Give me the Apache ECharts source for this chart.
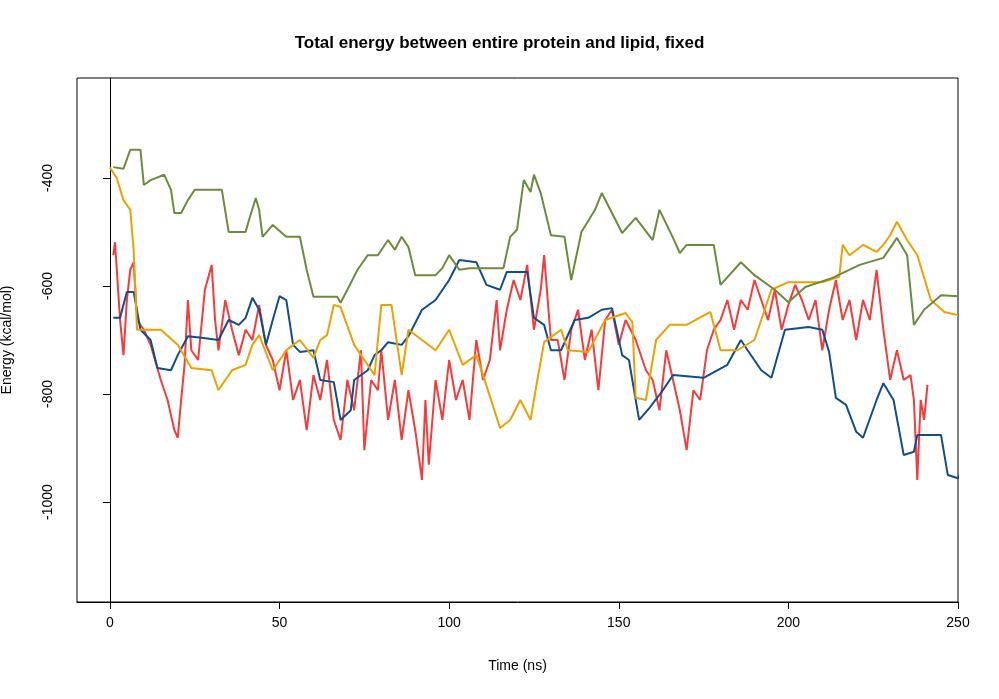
<!DOCTYPE html>
<html>
<head>
<meta charset="utf-8">
<script src="https://cdn.jsdelivr.net/npm/echarts@6/dist/echarts.min.js"></script>
<style>html,body{margin:0;padding:0;background:#fff}#chart{width:999px;height:699px}</style>
</head>
<body>
<div id="chart"></div>
<script>
// [time (ns), energy (kcal/mol)] pairs
const greenSeries = [[1,-380],[4,-383],[6,-348],[9,-348],[10,-413],[12,-404],[16,-394],[18,-422],[19,-465],[21,-465],[23,-441],[25,-422],[33,-422],[35,-500],[40,-500],[41,-478],[43,-437],[44,-459],[45,-509],[48,-487],[52,-509],[56,-509],[58,-570],[60,-620],[67,-620],[68,-631],[70,-607],[73,-570],[76,-543],[79,-543],[82,-515],[84,-533],[86,-509],[88,-528],[90,-580],[96,-580],[98,-567],[100,-543],[103,-570],[106,-567],[116,-567],[118,-509],[120,-496],[122,-404],[124,-426],[125,-394],[127,-428],[130,-506],[134,-509],[136,-589],[139,-500],[143,-459],[145,-428],[151,-502],[155,-474],[160,-515],[162,-459],[166,-511],[168,-539],[170,-524],[178,-524],[180,-598],[186,-556],[190,-580],[196,-607],[200,-630],[205,-602],[213,-585],[221,-561],[228,-548],[232,-511],[235,-543],[237,-672],[240,-644],[245,-617],[250,-619]];
const orangeSeries = [[0,-381],[2,-400],[4,-441],[6,-459],[7,-533],[8,-681],[15,-681],[20,-709],[24,-752],[30,-756],[32,-793],[36,-756],[40,-746],[42,-709],[44,-691],[48,-756],[52,-719],[54,-709],[56,-700],[60,-733],[62,-700],[64,-691],[66,-635],[68,-639],[72,-709],[78,-765],[79,-700],[80,-635],[83,-635],[86,-765],[88,-681],[96,-719],[100,-681],[104,-746],[108,-728],[110,-765],[115,-863],[118,-848],[121,-811],[124,-848],[126,-774],[128,-704],[133,-681],[135,-719],[141,-722],[146,-663],[152,-650],[154,-667],[155,-807],[158,-811],[161,-700],[165,-672],[170,-672],[177,-648],[180,-719],[185,-719],[190,-700],[195,-607],[200,-593],[210,-593],[215,-583],[216,-524],[218,-543],[222,-524],[226,-537],[228,-524],[230,-506],[232,-481],[235,-515],[238,-543],[242,-626],[246,-648],[250,-654]];
const blueSeries = [[1,-659],[3,-659],[5,-611],[7,-611],[9,-681],[12,-700],[14,-752],[18,-756],[20,-728],[23,-693],[27,-696],[32,-700],[35,-663],[38,-672],[40,-659],[42,-622],[44,-644],[46,-709],[48,-663],[50,-619],[52,-626],[54,-709],[56,-722],[60,-719],[62,-774],[66,-778],[68,-848],[71,-830],[72,-774],[76,-756],[78,-728],[80,-719],[82,-704],[86,-709],[88,-693],[92,-644],[96,-626],[100,-589],[103,-552],[108,-556],[111,-598],[115,-607],[117,-574],[123,-574],[125,-659],[128,-672],[130,-719],[133,-719],[137,-663],[141,-659],[145,-644],[148,-641],[151,-728],[153,-737],[156,-848],[159,-826],[163,-793],[166,-765],[175,-770],[182,-746],[186,-700],[188,-719],[192,-756],[195,-770],[199,-681],[206,-676],[210,-681],[212,-722],[214,-807],[217,-820],[220,-870],[222,-881],[226,-811],[228,-780],[231,-811],[234,-913],[237,-907],[238,-876],[245,-876],[247,-950],[250,-956],[252,-928]];
const redSeries = [[1,-543],[1.5,-519],[3,-663],[4,-728],[5,-626],[6,-570],[7,-556],[8,-663],[10,-681],[12,-709],[15,-774],[17,-811],[19,-867],[20,-881],[21,-811],[22,-746],[23,-626],[24,-719],[26,-737],[28,-607],[30,-561],[31,-663],[32,-719],[34,-626],[36,-681],[38,-728],[40,-681],[42,-700],[44,-635],[46,-709],[48,-737],[50,-793],[52,-719],[54,-811],[56,-774],[58,-867],[60,-765],[62,-811],[64,-737],[66,-848],[68,-885],[70,-774],[72,-830],[74,-719],[75,-904],[77,-774],[79,-793],[80,-719],[82,-848],[84,-774],[86,-885],[88,-793],[90,-867],[92,-959],[93,-811],[94,-931],[96,-774],[98,-848],[100,-737],[102,-811],[104,-774],[106,-848],[108,-700],[110,-774],[112,-737],[114,-626],[115,-719],[117,-644],[119,-589],[121,-626],[123,-561],[125,-681],[127,-607],[128,-543],[130,-700],[132,-700],[134,-774],[136,-681],[138,-644],[140,-737],[142,-681],[144,-793],[146,-663],[148,-644],[150,-709],[152,-663],[155,-700],[158,-756],[160,-774],[162,-830],[164,-719],[166,-774],[168,-830],[170,-904],[172,-793],[174,-811],[176,-719],[178,-681],[180,-663],[182,-626],[184,-681],[186,-626],[188,-644],[190,-589],[192,-626],[194,-663],[196,-607],[198,-681],[200,-635],[202,-598],[204,-626],[206,-663],[208,-626],[210,-719],[212,-644],[214,-589],[216,-663],[218,-626],[220,-700],[222,-626],[224,-663],[226,-570],[228,-681],[230,-774],[232,-719],[234,-774],[236,-765],[237,-811],[238,-959],[239,-811],[240,-848],[241,-783]];
const xTicks = [0, 50, 100, 150, 200, 250];
const yTicks = [-1000, -800, -600, -400];

const chart = echarts.init(document.getElementById('chart'));
const font = 'Liberation Sans, Arial, sans-serif';
function line(data, color) {
    return { type: 'line', data: data, showSymbol: false, animation: false,
        lineStyle: { color: color, width: 2 }, itemStyle: { color: color } };
}
chart.setOption({
    animation: false,
    title: { text: 'Total energy between entire protein and lipid, fixed', left: 'center', top: 30,
        textStyle: { fontFamily: font, fontSize: 17, fontWeight: 'bold', color: '#000' } },
    grid: { left: 77, right: 41, top: 78, bottom: 97, containLabel: false, outerBoundsMode: 'none',
        show: true, borderColor: '#000', borderWidth: 1 },
    xAxis: {
        type: 'value', min: -9.7, max: 250,
        name: 'Time (ns)', nameLocation: 'middle', nameGap: 57,
        nameTextStyle: { fontFamily: font, fontSize: 14, color: '#000' },
        axisLine: { show: true, lineStyle: { color: '#000' } }, splitLine: { show: false },
        axisTick: { show: true, inside: false, length: 7, lineStyle: { color: '#000' }, customValues: xTicks },
        axisLabel: { fontFamily: font, fontSize: 14, color: '#000', margin: 14, customValues: xTicks,
            formatter: v => String(v) }
    },
    yAxis: {
        type: 'value', min: -1185, max: -215,
        name: 'Energy (kcal/mol)', nameLocation: 'middle', nameGap: 63,
        nameTextStyle: { fontFamily: font, fontSize: 14, color: '#000' },
        axisLine: { show: true, lineStyle: { color: '#000' } }, splitLine: { show: false },
        axisTick: { show: true, inside: false, length: 7, lineStyle: { color: '#000' }, customValues: yTicks },
        axisLabel: { fontFamily: font, fontSize: 14, color: '#000', rotate: 90, margin: 22, customValues: yTicks,
            formatter: v => String(v) }
    },
    series: [
        line(redSeries, '#F83A3A'),
        line(blueSeries, '#104E8B'),
        line(orangeSeries, '#EEA000'),
        line(greenSeries, '#6E8B3D')
    ]
});
</script>
</body>
</html>
